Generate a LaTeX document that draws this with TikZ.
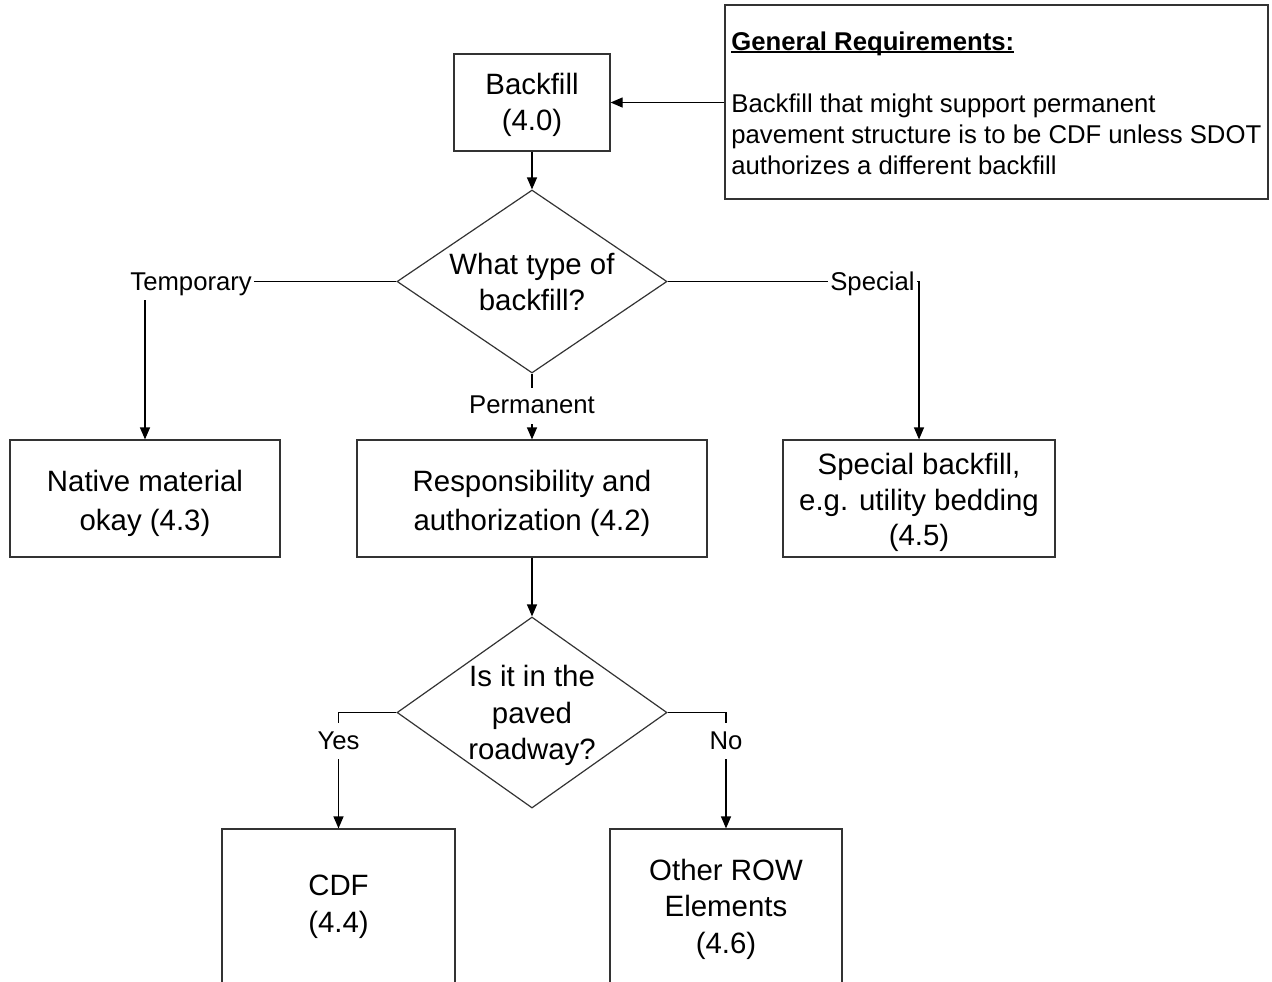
\documentclass[tikz,border=0pt]{standalone}
\usepackage{fontspec}
\setmainfont{Liberation Sans}
\usetikzlibrary{arrows.meta,shapes.geometric}
\newcommand\lift[1]{\rule{0pt}{#1pt}}
\newcommand\myul[1]{\setbox0\hbox{#1}\rlap{\rule[-1.6pt]{\wd0}{0.9pt}}\box0}
\begin{document}
\begin{tikzpicture}[x=0.5pt,y=-0.5pt,
  box/.style={draw=black!80, line width=0.6pt, rectangle, inner sep=0pt, align=center, font=\fontsize{14.7}{18.25}\selectfont},
  widebox/.style={box, font=\fontsize{14.7}{19.5}\selectfont},
  dia/.style={draw=black!80, line width=0.6pt, diamond, inner sep=0pt, minimum width=135pt},
  dtxt/.style={align=center, inner sep=0pt, font=\fontsize{14.7}{18.25}\selectfont},
  lbl/.style={fill=white, inner xsep=1pt, inner ysep=2.5pt, text height=10.5pt, text depth=2.5pt, font=\fontsize{12.85}{15.5}\selectfont},
  conn/.style={line width=0.6pt, draw=black},
  arr/.style={conn, -{Triangle[length=6pt,width=5pt]}},
  gen/.style={anchor=base west, inner sep=0pt, font=\fontsize{12.85}{15.5}\selectfont}
]
\useasboundingbox (0,0) rectangle (1272,981);
\clip (0,0) rectangle (1272,981);

% boxes
\node[box, minimum width=78pt, minimum height=48.5pt] (bf) at (532,102.5) {\lift{13.2}Backfill\\(4.0)};
\node[box, minimum width=271.5pt, minimum height=97pt] (gr) at (996.5,102) {};
\node[gen] (grt) at (731,50) {\myul{\textbf{General Requirements:}}};
\node[gen] (gr1) at (731,112) {Backfill that might support permanent};
\node[gen] (gr2) at (731,143) {pavement structure is to be CDF unless SDOT};
\node[gen] (gr3) at (731,174) {authorizes a different backfill};

\node[dia, minimum height=91.5pt] (d1) at (532,281.5) {};
\node[dtxt] (d1t) at (532,282) {What type of\\backfill?};

\node[widebox, minimum width=135pt, minimum height=58.5pt] (nat) at (145,498.5) {\lift{15.7}Native material\\okay (4.3)};
\node[widebox, minimum width=175pt, minimum height=58.5pt] (resp) at (532,498.5) {\lift{15.7}Responsibility and\\authorization (4.2)};
\node[box, minimum width=136pt, minimum height=58.5pt, font=\fontsize{14.7}{17.8}\selectfont] (sp) at (919,498.5) {\lift{14.7}Special backfill,\\e.g. utility bedding\\(4.5)};

\node[dia, minimum height=95.5pt] (d2) at (532,712.5) {};
\node[dtxt] (d2t) at (532,712.5) {\lift{13.7}Is it in the\\paved\\roadway?};

\node[box, minimum width=116.5pt, minimum height=78pt] (cdf) at (338.5,907) {CDF\\(4.4)};
\node[box, minimum width=116pt, minimum height=78pt] (oth) at (726,907) {\lift{12.7}Other ROW\\Elements\\(4.6)};

% connectors
\draw[arr] (bf.east -| gr.west) -- (bf.east);
\draw[arr] (bf.south) -- (d1.north);
\draw[arr] (d1.west) -| (nat.north);
\draw[arr] (d1.east) -| (sp.north);
\draw[arr] (d1.south) -- (resp.north);
\draw[arr] (resp.south) -- (d2.north);
\draw[arr] (d2.west) -| (cdf.north);
\draw[arr] (d2.east) -| (oth.north);

% connector labels
\node[lbl, anchor=west] (lt) at (128,282) {Temporary};
\node[lbl, anchor=east] (ls) at (917,282) {Special};
\node[lbl] (lp) at (532,405.5) {Permanent};
\node[lbl] (ly) at (338.5,741) {Yes};
\node[lbl] (ln) at (726,741) {No};
\end{tikzpicture}
\end{document}
